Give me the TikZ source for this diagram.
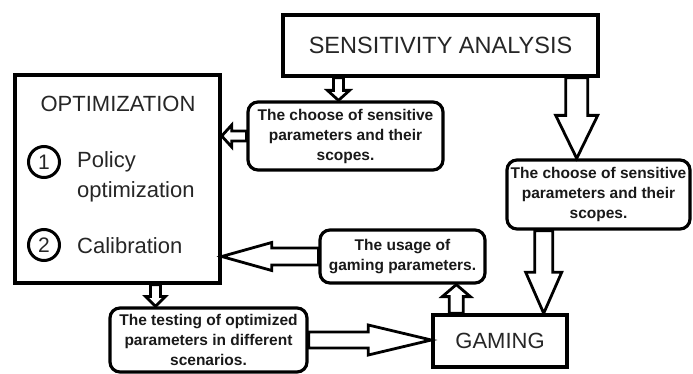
\documentclass[tikz,border=0pt]{standalone}
\usepackage{fontspec}
\setmainfont{Liberation Sans}
\usetikzlibrary{calc}
\tikzset{
  mainbox/.style={draw, line width=3.4pt, fill=white, inner sep=0pt, font=\fontsize{22}{26}\selectfont, text=black!85},
  notebox/.style={draw, rounded corners=10pt, line width=3.2pt, fill=white, align=center, inner sep=0pt, font=\fontsize{15.5}{20}\selectfont\bfseries, text=black!90},
  biglabel/.style={font=\fontsize{22}{26}\selectfont, text=black!85, inner sep=0pt},
  stepnum/.style={draw, circle, line width=3pt, minimum size=31pt, inner sep=0pt, font=\fontsize{21}{24}\selectfont, text=black!85},
  blockarrow/.style={draw, fill=white, line width=2.8pt, line join=miter}
}
% hollow block arrow: start, tip, half shaft width, half head width, head length
\newcommand{\hollowarrow}[5]{%
  \coordinate (hb) at ($(#2)!#5!(#1)$);
  \draw[blockarrow] ($(#1)!#3!90:(#2)$) -- ($(hb)!#3!-90:(#1)$) -- ($(hb)!#4!-90:(#1)$)
    -- (#2) -- ($(hb)!#4!90:(#1)$) -- ($(hb)!#3!90:(#1)$) -- ($(#1)!#3!-90:(#2)$) -- cycle;
}

\begin{document}
\begin{tikzpicture}[x=1pt, y=-1pt]
  \useasboundingbox (0,0) rectangle (693,374);

  \node[mainbox, minimum width=315pt, minimum height=61pt, font=\fontsize{23.5}{26}\selectfont] (sa) at (440.5,45.5) {SENSITIVITY ANALYSIS};
  \node[mainbox, minimum width=205pt, minimum height=208pt] (opt) at (117.5,179) {};
  \node[mainbox, minimum width=134pt, minimum height=52pt] (gm) at (500,341) {GAMING};

  % contents of the optimization box
  \node[biglabel, anchor=base] (optt) at (118,112) {OPTIMIZATION};
  \node[stepnum] (n1) at (44,162) {1};
  \node[biglabel, anchor=base west] (pol) at (77,168) {Policy};
  \node[biglabel, anchor=base west] (polb) at (77,197) {optimization};
  \node[stepnum] (n2) at (44,245) {2};
  \node[biglabel, anchor=base west] (cal) at (77,253) {Calibration};

  \node[notebox, minimum width=195pt, minimum height=68pt] (c1) at (345.5,136) {The choose of sensitive\\parameters and their\\scopes.};
  \node[notebox, minimum width=183pt, minimum height=69pt] (c2) at (598.5,194.5) {The choose of sensitive\\parameters and their\\scopes.};
  \node[notebox, minimum width=165pt, minimum height=53pt] (c3) at (402.5,256.5) {The usage of\\gaming parameters.};
  \node[notebox, minimum width=197pt, minimum height=64pt] (c4) at (208.5,340) {The testing of optimized\\parameters in different\\scenarios.};

  % arrows
  \coordinate (a1e) at ($(c1.north)+(-7,0)$);
  \coordinate (a1s) at (a1e |- sa.south);
  \hollowarrow{a1s}{a1e}{5pt}{11pt}{10pt}

  \coordinate (a2e) at (opt.east |- c1.west);
  \hollowarrow{c1.west}{a2e}{5pt}{11pt}{10pt}

  \coordinate (a3s) at ($(sa.south east)+(-23,0)$);
  \coordinate (a3e) at (a3s |- c2.north);
  \hollowarrow{a3s}{a3e}{11pt}{21pt}{43pt}

  \coordinate (a4e) at ($(gm.north east)+(-25,0)$);
  \coordinate (a4s) at (a4e |- c2.south);
  \hollowarrow{a4s}{a4e}{9pt}{18pt}{41pt}

  \coordinate (a5s) at ($(gm.north west)+(25,0)$);
  \coordinate (a5e) at (a5s |- c3.south);
  \hollowarrow{a5s}{a5e}{7pt}{14pt}{12pt}

  \coordinate (a6e) at (opt.east |- c3.west);
  \hollowarrow{c3.west}{a6e}{8.5pt}{14pt}{50pt}

  \coordinate (a7e) at ($(c4.north)+(-53,0)$);
  \coordinate (a7s) at (a7e |- opt.south);
  \hollowarrow{a7s}{a7e}{5pt}{10pt}{10pt}

  \coordinate (a8e) at (gm.west |- c4.east);
  \hollowarrow{c4.east}{a8e}{8pt}{15pt}{63pt}
\end{tikzpicture}
\end{document}
